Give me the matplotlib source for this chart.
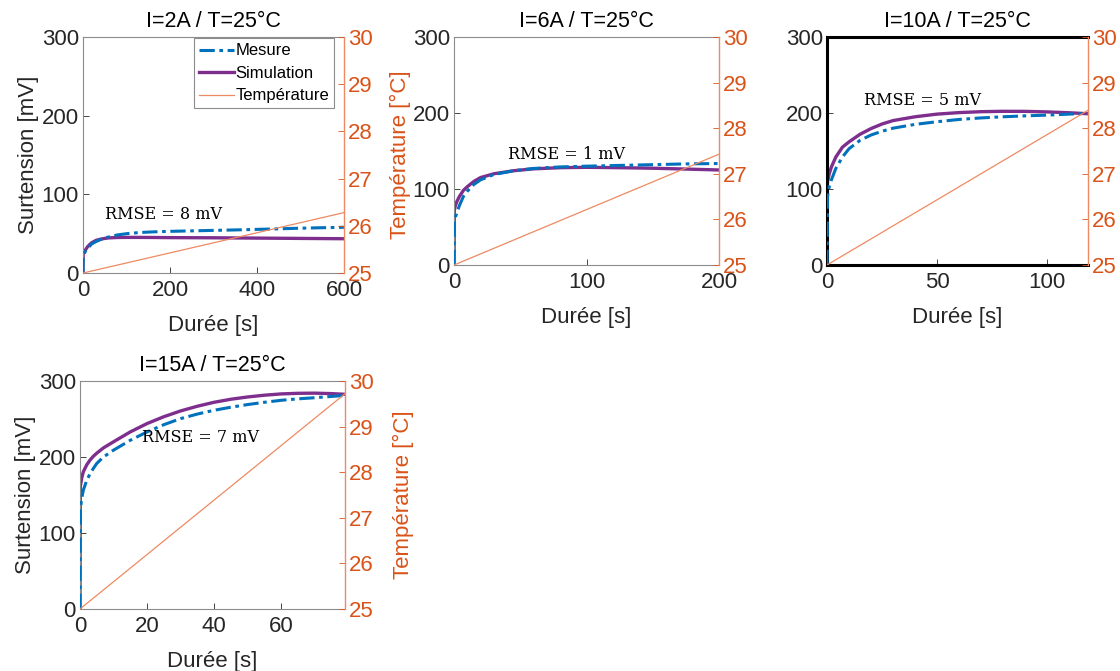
import matplotlib
matplotlib.use("Agg")
import matplotlib.pyplot as plt

plt.rcParams['font.family'] = ['Liberation Sans', 'DejaVu Sans']

# I=2A
t1 = [0, 0.5, 2, 4, 7, 10, 15, 20, 30, 40, 50, 60, 80, 100, 130, 160, 200, 250, 300, 350, 400, 450, 500, 550, 600]
mes1 = [0, 22, 24, 26, 29, 31, 34, 37, 40, 42.5, 44.5, 46, 48.5, 50, 51.5, 52.3, 53, 53.6, 54.2, 54.8, 55.5, 56.2, 57, 57.6, 58.2]
sim1 = [0, 24, 26, 28, 30.5, 33, 36, 38.5, 41.5, 43, 44, 44.7, 45.2, 45.3, 45.3, 45.2, 45, 44.9, 44.8, 44.6, 44.4, 44.2, 44, 43.8, 43.6]
temp1 = [25, 26.28]

# I=6A
t2 = [0, 0.2, 1, 2, 4, 7, 10, 15, 20, 30, 45, 60, 80, 100, 125, 150, 175, 200]
mes2 = [0, 55, 63, 68, 78, 90, 97, 106, 112, 119, 124, 127, 129, 130, 131, 132, 133, 133.5]
sim2 = [0, 72, 78, 83, 90, 98, 103, 110, 115, 120, 124, 126.5, 128, 128.5, 128, 127.3, 126.2, 125]
temp2 = [25, 27.43]

# I=10A
t3 = [0, 0.2, 1, 2, 4, 7, 10, 15, 20, 25, 30, 40, 50, 60, 70, 80, 90, 100, 110, 118.5]
mes3 = [0, 90, 103, 112, 127, 142, 153, 164, 171, 176, 180, 185, 188.5, 191.5, 193.5, 195, 196.2, 197.2, 198.5, 199.5]
sim3 = [0, 109, 120, 129, 142, 155, 162, 172, 179.5, 185.5, 190, 195, 198.5, 200.5, 201.7, 202.2, 202.1, 201.4, 200.3, 199]
temp3 = [25, 28.39]

# I=15A
t4 = [0, 0.1, 0.5, 1, 2, 3, 4, 5, 7, 10, 15, 20, 25, 30, 35, 40, 45, 50, 55, 60, 65, 70, 75, 79]
mes4 = [0, 130, 145, 156.5, 169, 178, 185, 191.5, 200, 209, 222, 233, 242.5, 250.5, 256.5, 261.5, 265.5, 269, 272, 274.6, 276.5, 278, 279.7, 281]
sim4 = [0, 161, 172, 180.6, 189.5, 196, 201, 205, 212, 220, 233, 244, 253, 260.6, 266.8, 272, 276, 279, 281.3, 283, 283.8, 284, 283.4, 282.5]
temp4 = [25, 29.72]

titles = ["I=2A / T=25°C", "I=6A / T=25°C", "I=10A / T=25°C", "I=15A / T=25°C"]
rmse = [8, 1, 5, 7]
xmax = [600, 200, 118.5, 79]
xticks = [[0, 200, 400, 600], [0, 100, 200], [0, 50, 100], [0, 20, 40, 60]]
rmse_pos = [(50, 74), (41, 145), (17, 217), (18.5, 225)]

series = [(t1, mes1, sim1, temp1), (t2, mes2, sim2, temp2),
          (t3, mes3, sim3, temp3), (t4, mes4, sim4, temp4)]

boxes = [[0.0741, 0.5931, 0.2330, 0.3517],
         [0.4054, 0.6051, 0.2366, 0.3398],
         [0.7384, 0.6051, 0.2330, 0.3398],
         [0.0714, 0.0924, 0.2366, 0.3398]]

blue = "#0072BD"
purple = "#7E2F8E"
orange = "#D95319"
torange = "#EE8A62"
dark = "#262626"

fig = plt.figure(figsize=(11.2, 6.71), dpi=100)

for i in range(4):
    t, mes, sim, temp = series[i]
    ax = fig.add_axes(boxes[i])
    ax2 = ax.twinx()
    l1, = ax.plot(t, mes, color=blue, lw=2.2, ls=(0, (5, 1.5, 1.2, 1.5)), label="Mesure", zorder=3)
    l2, = ax.plot(t, sim, color=purple, lw=2.4, label="Simulation", zorder=2)
    l3, = ax2.plot([0, xmax[i]], temp, color=torange, lw=0.9, label="Température")
    ax.set_xlim(0, xmax[i])
    ax.set_ylim(0, 300)
    ax2.set_ylim(25, 30)
    ax.set_xticks(xticks[i])
    ax.set_yticks([0, 100, 200, 300])
    ax2.set_yticks([25, 26, 27, 28, 29, 30])
    ax.tick_params(direction='in', labelsize=16, colors=dark, length=4, width=0.6, pad=3)
    ax.tick_params(axis='x', pad=5)
    ax2.tick_params(direction='in', labelsize=16, colors=orange, length=4, width=0.6, pad=3)
    ax.set_title(titles[i], fontsize=15.5, color='black', pad=7)
    ax.set_xlabel("Durée [s]", fontsize=16, color=dark, labelpad=10)
    for s in ax2.spines.values():
        s.set_visible(False)
    ax2.spines['right'].set_visible(True)
    ax2.spines['right'].set_color(torange)
    ax2.spines['right'].set_linewidth(1.0)
    if i == 2:
        for k in ['top', 'left', 'bottom']:
            ax.spines[k].set_color('black')
            ax.spines[k].set_linewidth(2.2)
        ax.spines['right'].set_visible(False)
    else:
        for k in ['top', 'left', 'bottom']:
            ax.spines[k].set_color('#8c8c8c')
            ax.spines[k].set_linewidth(0.8)
        ax.spines['right'].set_visible(False)
    ax.text(rmse_pos[i][0], rmse_pos[i][1], "RMSE = %d mV" % rmse[i],
            fontsize=11.5, family='DejaVu Serif', ha='left', va='center', color='black', zorder=5)
    if i == 0 or i == 3:
        ax.set_ylabel("Surtension [mV]", fontsize=16, color=dark, labelpad=2)
    if i == 0:
        ax2.set_ylabel("Température [°C]", fontsize=16, color=orange, labelpad=12)
        leg = ax.legend([l1, l2, l3], ["Mesure", "Simulation", "Température"],
                        loc='upper right', bbox_to_anchor=(0.975, 1.008), fontsize=12,
                        handlelength=2.1, handletextpad=0.1, borderpad=0.3,
                        labelspacing=0.45, fancybox=False, framealpha=1,
                        borderaxespad=0.2)
        leg.get_frame().set_edgecolor('#8c8c8c')
        leg.get_frame().set_linewidth(0.8)
    if i == 3:
        ax2.set_ylabel("Température [°C]", fontsize=16, color=orange, labelpad=14)

fig.savefig("out.png", dpi=100)
